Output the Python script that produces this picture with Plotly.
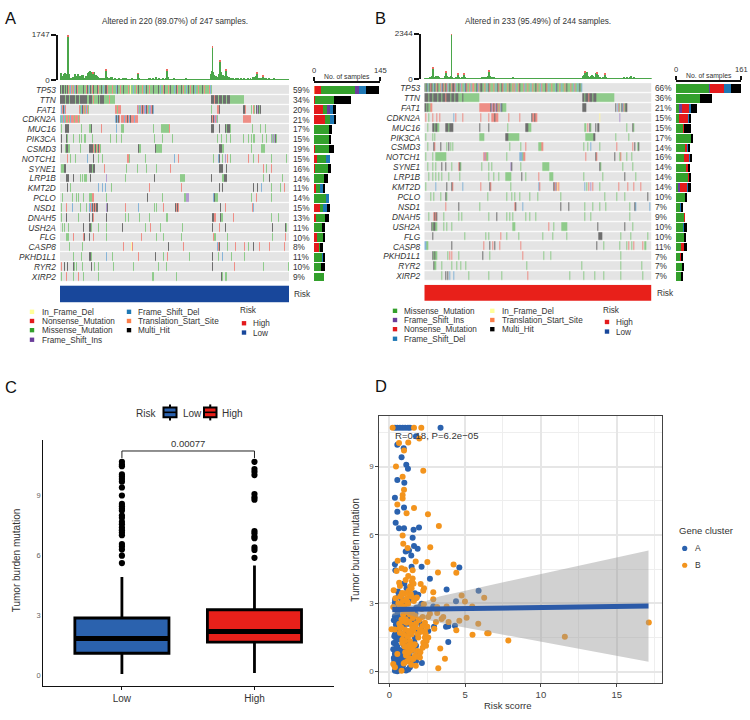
import plotly.graph_objects as go

W, H = 750, 720
FONT = "Liberation Sans"
GENES_A = ["TP53","TTN","FAT1","CDKN2A","MUC16","PIK3CA","CSMD3","NOTCH1","SYNE1","LRP1B","KMT2D","PCLO","NSD1","DNAH5","USH2A","FLG","CASP8","PKHD1L1","RYR2","XIRP2"]
PCT_A = [59,34,20,21,17,15,19,15,16,14,11,14,15,13,11,10,8,11,10,9]
PCT_B = [66,36,21,15,15,17,14,16,14,14,14,10,7,9,10,10,11,7,7,7]
N_A, N_B = 247, 244
MAX_A, MAX_B = 145, 161

# side bar counts per gene
A_t = [2,0,0,0,0,0,0,0,0,0,0,0,0,0,0,0,0,0,0,0]
A_n = [13,3,20,24,1,0,2,7,2,0,4,0,12,4,0,7,11,0,1,1]
A_m = [75,41,8,11,32,33,30,20,29,22,9,26,8,20,18,14,4,19,15,20]
A_i = [9,0,7,0,0,0,0,0,0,0,0,0,0,0,0,0,0,0,0,0]
A_f = [15,0,6,9,0,0,0,7,0,0,7,6,8,0,0,0,0,2,0,0]
A_x = [27,36,7,4,7,3,12,0,7,9,4,0,7,8,7,1,4,3,7,0]
B_m = [82,59,7,7,18,39,22,21,27,30,7,23,10,20,19,19,12,11,17,14]
B_i = [3,0,7,0,0,0,0,0,0,0,3,0,0,0,0,0,0,0,0,0]
B_n = [34,0,17,24,3,0,6,12,2,1,16,0,1,2,0,0,9,2,0,0]
B_f = [18,0,6,2,0,0,1,2,0,0,6,0,2,0,1,0,0,0,0,0]
B_x = [24,31,16,3,16,2,6,5,5,5,4,2,4,0,6,5,5,4,2,3]

# TMB per sample
TMB_A = [60,300,120,180,250,270,240,260,1747,240,
60,80,40,70,120,50,240,100,160,240,
130,170,100,220,200,60,90,120,160,150,
300,340,350,330,320,300,340,220,200,170,
120,90,110,60,100,60,80,50,90,430,
130,60,110,70,140,50,120,60,40,90,
70,40,60,90,50,40,70,110,40,60,
90,110,50,30,60,40,50,80,60,40,
60,50,60,70,280,110,50,70,40,60,
60,50,70,60,40,110,60,90,70,50,
80,60,50,150,60,70,90,60,50,70,
60,110,70,50,90,430,120,60,50,60,
50,60,90,40,70,50,60,40,30,50,
70,40,60,30,50,80,40,30,50,60,
30,40,60,30,20,50,30,40,70,30,
40,30,60,20,40,30,50,20,40,60,
30,50,250,380,1330,320,200,130,180,140,
90,260,790,310,150,220,170,110,380,410,
170,100,130,60,90,60,110,50,70,90,
60,90,50,70,60,80,50,60,90,50,
40,70,110,60,50,90,70,60,130,90,
120,170,300,110,90,60,110,90,190,120,
80,60,90,70,50,90,60,40,70,50,
80,50,60,40,70,50,30,60,40,70,
30,50,60,40,30,50,40]
TMB_B = [40,60,70,50,90,80,100,120,180,610,
150,110,200,130,90,170,110,60,50,70,
90,70,180,390,160,120,130,110,170,2344,
120,90,70,60,110,90,300,100,70,60,
110,130,300,120,90,60,50,70,60,80,
60,50,70,40,60,50,80,40,60,70,
80,60,100,70,120,90,100,130,180,440,
200,110,90,70,100,120,80,60,90,70,
60,70,50,90,60,40,70,50,60,80,
60,90,70,50,60,100,70,50,70,60,
90,60,50,70,40,60,80,50,20,30,
40,20,30,50,40,30,60,30,40,50,
30,40,60,30,50,40,30,60,40,30,
50,30,40,60,30,50,30,40,30,50,
40,30,50,30,40,60,30,40,50,30,
40,30,60,40,30,50,30,40,30,50,
40,50,30,60,40,30,50,80,60,40,
200,210,390,200,380,160,130,120,100,180,
220,170,150,130,340,350,210,150,100,80,
70,100,120,60,300,110,70,50,60,40,
60,40,50,70,60,40,30,60,40,70,
50,40,90,60,110,80,50,100,60,40,
120,80,170,70,50,130,90,60,40,70,
50,80,60,40,90,50,60,30,70,40,
50,30,60,40]
TIP_A_IDX = [8,49,84,115,164,172,179,212,218,35]
TIP_A_VAL = [60,30,20,30,60,50,30,30,30,30]
TIP_B_IDX = [9,23,29,36,42,69,172,185,194]
TIP_B_VAL = [50,30,50,30,30,40,30,30,30]

# per-sample mutations in the oncoplots: "3m" = sample 3, "4-9x" = samples 4..9
a_TP53 = "xmxxmxmmxnmfnmnfmxnm" "mmmmmxmmnxmfxmmnxmmm" "xnmmxmfmmxxnmmmmnmmm" "fmxmmnmmxmmmmnmxdmmf" "mmnmxmmmnmmfmxmmnmmm" "xmnmmmxmfmmnxmmmmnmx" "mmmfmxnmmmmxmnmmfmxm" "nmmxmmfmmnmmmxmnmfmm" "mnfm"
a_TTN = "0-4x 5m 6-9x 10m 11-15x 16m 17-20x 21m 22-28x 29m 30m 31-34x 35m 36n 37-40m 41x 42m 43-46x 47m 48-52m 53n 54-58m 163-165x 166n 167-169x 170m 171-174x 175m 176-178x 179m 180-182x 183-197m"
a_FAT1 = "1f 2n 3x 4f 5n 21n 22m 23f 24x 25n 26m 27n 28f 29n 30m 59-61n 62m 63-65n 83n 84i 85m 86f 87n 88x 89m 90n 91i 92f 93x 94n 95m 96f 97i 98n 99x 100f 163m 169-171n 172x 197-199x 200n 206m 208n 209m 211x 212n 213i 214x 215m 216x"
a_CDKN2A = "0f 1m 2f 3n 4f 5m 6f 7-8n 9m 10n 11f 12-14n 15m 16-18n 19m 20-21n 59f 60x 61n 62f 63x 64n 66-68n 69f 70-71n 72x 73n 74f 75n 76x 77-79n 80f 81-83n 163x 164n 165x 166i 167n 168i 169m 197-205n"
a_MUC16 = "1m 5x 6m 7-9x 23m 31m 32m 33-34x 44n 60f 66-68m 89m 100m 109-117m 118n 163-165x 172x 178x 179m 180-182x 183m 207m 216m 221m"
a_PIK3CA = "1x 7x 8m 14m 21m 23m 26m 27m 35m 54m 60m 66m 101m 110m 121m 169m 174m 179m 183m 197m 203m 206m 208m 209m 218m 222m 228m 229i 230m 231i 232x 233m"
a_CSMD3 = "1x 5m 6-8x 9-10m 22m 31-33x 34n 35x 36n 37m 38x 39n 40m 41x 42n 43m 84x 85-86m 102x 103x 104-109m 172-174x 175-176m 206m 217-220m"
a_NOTCH1 = "8n 11m 16m 29f 34d 36x 41m 45m 72-73n 74-75m 92m 123f 127n 165m 170f 172x 175m 178i 180n 183m 203n 208m 212x 214n 228m 244m"
a_SYNE1 = "1-3m 4-6x 31-33x 34-35m 36-37x 47n 48m 71m 83m 93m 104m 119n 172-175x 179x 219n 222m 228n"
a_LRP1B = "6-9x 14x 22m 24m 26-28m 32x 50i 70m 101x 129-134m 163x 175-176m 177-179x 212m 219m 225x 239m"
a_KMT2D = "8x 11m 20i 41f 45f 49f 55m 96n 131n 172x 175x 208x 212f 213x 217f 228m 237m 242n"
a_PCLO = "2m 6m 13m 17m 19m 25m 31-33m 34-36n 50m 94x 110m 130f 134-135m 136-138i 165f 166x 167-169m 171m 206m 211n 228m"
a_NSD1 = "1m 6-7n 13f 22m 28m 31f 32n 33f 35x 36n 37x 38n 39-40x 50i 51x 70n 84f 101m 104m 111n 124x 125n 126x 127n 173x 178n 207n 208f"
a_DNAH5 = "1m 6-7x 19m 31x 35x 36n 50x 70m 73m 85m 96m 114-115m 164-165x 166-167n 173x 174-175m 187n 228m 235m 240m"
a_USH2A = "2m 4m 6m 9m 25x 31-32x 33m 41m 50m 67x 92m 97n 108m 132m 164x 172n 178x 199m 229x 243x 244m"
a_FLG = "6-9m 14n 25n 26x 31x 36n 50m 87n 102m 104m 111m 131m 165n 166-167m 180m 199m 212m 229m 243n"
a_CASP8 = "10m 24m 68n 77d 78n 117x 133n 169f 170n 171n 172x 180m 189n 198n 203m 208x 215n 225n 242n"
a_PKHD1L1 = "14m 23m 31-32x 33-34m 50f 56m 84n 103x 111m 115n 139m 164x 170m 175f 184m 198m 226m"
a_RYR2 = "1n 4x 8x 14x 15m 17m 24m 33x 37m 41m 57m 79m 106m 114m 164x 188n 219m 246m"
a_XIRP2 = "1m 7n 14m 19n 25m 34m 41m 99-100m 125m 130m 174x 175m 178-179m"

b_TP53 = "xmxfmxnmxmfxmnxmmnfx" "nmxxnfmxmnxxnfmmnxmf" "nmmfxnmmnfmxnnmmxfnm" "xxmmnmmfmxnmmmnmfmxn" "mmmxnmfmmnmxmmnmmnfm" "mnxmmmnfmmxnmmfmnmmx" "mnmmfmnmmmxnmfmmnmmn" "mfxmmnmfmmnmxmfmmnmm" "fnmmfmxmfn"
b_TTN = "0-3x 4m 5-8x 9m 10-13x 14m 15-17x 18m 19-22x 23n 24-27x 28m 29-31x 32m 33-36x 37-40m 41x 42-58m 169-171x 172m 173-175x 176n 177-179x 180m 181-184x 185m 186-203m"
b_FAT1 = "0-1x 2m 3x 4-5m 6-8n 59-70n 71x 72i 73n 74x 75n 76i 77x 78n 79m 80x 81n 82f 83x 84-87m 169-173x 205x 207f 208n 209m 211x 212f 213x 214n 215m 216-217x"
b_CDKN2A = "1n 4m 9n 13n 16n 31f 33n 41n 60n 69n 72-74n 75x 76-78n 90n 102n 115x 116-117n 118x 119-120n 169x 188d 209i"
b_MUC16 = "3m 9-10x 11m 12-13x 14-15m 23-25x 26m 27-30x 59x 69x 89m 108-111x 112-114m 172-173m 175n 177x 178m 183-184x 186-187x 213n 217m 223x 224m"
b_PIK3CA = "1m 9m 11m 59-63m 87-89x 90-101m 173-180m 181-183x 205m 219m"
b_CSMD3 = "3m 10x 11n 17x 24m 26x 28m 30m 36m 91m 103m 108n 122-125m 126-127n 171m 175m 178f 188m 206n 223n 225x 227f 229m 230x"
b_NOTCH1 = "1m 9m 12-23m 63n 64i 65n 66-68m 88m 102-104f 105m 106-107n 169f 173n 184x 185n 204x 209m 210n 217m 222m"
b_SYNE1 = "3m 9m 12m 18x 23x 29m 37n 38x 39m 61m 69m 72m 92i 93x 103m 110m 127-133m 188x 189m 212m 223m"
b_LRP1B = "4m 9m 12m 15m 18m 22m 26m 38m 69m 74m 79m 87-92m 104x 108m 122n 134-137m 171m 191m 215x 226m"
b_KMT2D = "1m 12f 24x 29x 30n 41f 60n 70x 71n 80i 92m 122f 123n 138x 139f 140n 141f 142n 143d 144n 172f 174m 176n 178i 180n 188m 208n 218n 224n 232n"
b_PCLO = "6m 10m 17m 23x 24m 68m 88m 93m 97m 102m 113m 121m 146m 193m 206m 215m 239x"
b_NSD1 = "23n 37x 59m 97n 98x 105f 146x 155x 172m 180m 188m 194m 220m 225x 226f 241f"
b_DNAH5 = "4m 10n 11x 12n 13x 20m 37m 40m 69m 77x 88m 91m 94m 108m 113m 119m 172m 178m 183m 220m"
b_USH2A = "7-8x 9m 10-11x 12-13m 20m 24m 29m 80m 94-97m 133n 138m 147-152m 186x 215x 223m"
b_FLG = "9x 43m 65m 69m 82n 88m 95m 101m 127m 137m 152m 187-190x 210m 213m 221m 239m"
b_CASP8 = "0-1f 2-3m 29x 63n 70x 73n 75x 81n 103n 185x 192m 209m 217m 219n 222m 224n 234n 236-237m"
b_PKHD1L1 = "9x 10m 11x 12-13m 25m 27n 29n 37m 62x 70m 105n 128m 135m 210m 242m"
b_RYR2 = "10x 11-12m 18m 29m 34m 39m 44m 66m 109m 168m 210m 233m 242m"
b_XIRP2 = "18m 23x 25x 27f 31f 47m 69m 83m 111n 156m 171m 182m 192m 210m 234m"

# panel C
BOX_LABELS = ["Low", "High"]
BOX_Q1 = [1.11, 1.67]
BOX_MED = [1.84, 2.20]
BOX_Q3 = [2.87, 3.28]
BOX_LO = [0.08, 0.13]
BOX_HI = [4.92, 5.49]
OUT_LOW = [10.66,10.52,10.44,10.03,9.92,9.8,9.67,9.38,8.98,8.56,8.44,8.33,8.23,7.98,7.87,7.67,7.54,7.38,7.25,7.13,7.0,6.56,6.44,6.28,5.98,5.61]
OUT_HIGH = [10.66,10.3,10.16,10.0,9.05,8.89,8.77,7.21,7.1,6.93,6.85,6.39,6.26,5.87]

# panel D
D_A_x = [.37,.53,.7,.88,1.05,1.23,1.36,3.38,1.76,.53,.95,.81,1.12,1.23,.53,.99,.37,.97,.53,.42,.64,.97,1.6,1.96,1.54,1.63,1.87,1.08,1.3,1.45,.92,.37,.4,1.47,2.13,4.62,2.68,3.78,5.89,.99,4.4,.57,1.14,1.69,1.91,.37,2.13,2.9,.81,1.41,2.02,.37,1.25,1.58,.59,.44,1.23,2.02,2.13,1.76,2.57,2.95,3.74,3.89,4.33,3.89,.37,.7,1.69,.26,.48,.92,1.14,1.47,1.76,1.98,1.03,1.76,2.15,.37,.59,.33,.77,.37,.53,.7,1.25,1.36,.88,1.14,.44,.5,.6,.9,1.1,.75,.9,1.0,1.3,.42,.55,.65,.8,1.05,.45,.7,.95,1.15,.55,.8,1.1,.4,1.6,1.85,
.3,.35,.45,.5,.62,.72,.85,.95,1.2,1.35,1.5,.3,.4,.52,.68,.78,.98,1.12,1.28,1.55,.33,.46,.58,.82,1.02,1.18,1.42,1.65,.3,.48,.66,.86,1.06,1.22,1.62,1.9,.36,.56,.76,.96,1.16,1.38,1.72,.38,.6,.8,1.0,1.3,1.52,1.78]
D_A_y = [10.71,10.71,10.71,10.71,10.71,10.71,10.71,10.71,10.33,9.96,9.8,9.41,9.08,8.9,8.41,8.29,7.63,7.2,7.02,6.53,6.29,6.29,6.23,6.33,5.87,5.51,5.39,5.27,5.32,5.1,4.91,4.71,4.45,4.6,4.6,4.57,4.08,3.6,3.55,3.87,3.09,3.51,3.66,3.44,3.37,3.03,2.98,2.86,3.15,3.15,2.86,2.43,2.36,2.28,2.21,2.07,2.1,2.14,1.97,1.85,1.78,1.97,1.97,1.99,2.01,1.3,1.63,1.42,1.49,.98,1.05,1.2,.91,.91,1.13,.87,.69,.45,.38,.77,.55,.48,.33,.04,.01,.12,.09,.19,.84,.55,1.2,.3,.15,.25,.05,.62,.75,1.0,.7,.95,1.45,1.75,1.6,1.45,1.9,2.3,2.0,1.75,2.6,2.75,2.7,2.75,2.05,2.2,
.6,.25,.45,.7,.08,.4,.55,.35,.85,.45,1.15,1.25,.85,1.1,.95,.6,1.35,.8,1.25,.95,1.55,1.4,1.7,1.95,1.25,1.1,.45,1.3,2.25,2.05,1.9,1.55,1.35,1.6,2.5,1.7,2.9,2.45,2.2,1.65,2.4,2.6,2.55,3.15,3.3,3.4,3.05,3.25,2.5,2.8]
D_B_x = [.22,1.63,2.11,.64,1.25,1.98,.97,.44,2.24,.88,.97,.88,.88,.53,1.63,1.14,2.55,3.27,.88,.92,1.21,2.7,.55,1.74,2.51,4.24,4.42,3.21,.81,1.03,.48,1.54,1.25,1.54,1.49,1.08,.29,.7,2.07,2.29,2.24,1.47,2.9,.4,.81,1.03,1.47,1.76,2.9,4.77,4.99,6.26,.26,.66,1.25,3.16,3.78,5.47,2.68,3.16,2.2,2.57,3.56,3.45,5.1,4.62,3.91,3.08,5.87,17.12,2.97,.15,.37,4.42,5.49,6.46,6.55,11.58,7.85,3.36,3.67,3.23,.92,1.36,.81,1.14,1.47,1.76,2.35,2.51,.7,1.03,1.25,1.58,2.02,2.35,.92,1.25,1.47,1.91,2.35,2.57,1.03,1.36,2.24,2.46,2.2,2.42,1.25,1.47,.53,1.47,1.03,.26,.37,.81,2.02,1.69,.75,.9,1.0,1.25,1.5,1.7,2.0,.6,1.2,1.35,
.72,.84,1.12,1.28,1.42,1.62,1.82,2.14,2.28,.66,.78,1.08,1.3,1.56,1.72,1.95,2.18,2.4,.86,1.18,1.34,1.52,1.68,1.88,2.1,2.3,1.0,1.24,1.4,1.64,1.86,2.05,1.1,1.32,1.58,1.8,.95,1.2,1.45,1.75,.7,.85,1.05,1.3,1.55,1.15,1.38,1.6,.65,.98]
D_B_y = [10.71,10.71,10.71,10.03,10.06,10.23,9.71,9.0,8.82,8.55,7.98,7.75,7.6,7.34,7.18,6.95,6.91,6.39,5.97,5.61,5.43,5.46,4.86,4.83,4.81,4.7,4.34,4.35,4.54,4.48,4.42,4.45,4.19,4.09,3.95,4.02,3.57,3.76,3.84,3.66,3.55,3.66,3.48,3.22,3.37,3.44,3.29,3.22,3.18,3.34,3.08,3.24,2.83,2.93,2.98,2.83,2.86,2.86,2.54,2.57,2.4,2.4,2.4,2.31,2.36,2.23,2.18,2.18,2.1,2.15,1.88,1.86,1.85,1.81,1.62,1.68,1.68,1.53,1.36,1.01,.56,.14,2.5,2.5,2.28,2.14,2.07,2.11,2.14,1.97,1.92,1.85,1.78,1.78,1.85,1.78,1.63,1.56,1.63,1.49,1.49,1.49,1.34,1.34,1.27,1.34,1.05,1.13,1.13,1.2,.77,.55,.4,.33,.19,.04,.62,.69,2.9,3.1,2.85,2.7,2.6,2.45,2.3,3.0,3.05,3.35,
3.3,3.45,3.2,3.55,3.4,3.1,3.25,2.75,2.95,2.1,1.95,2.3,2.2,2.35,1.95,2.25,2.0,1.65,1.4,1.55,1.7,1.9,1.2,1.65,1.75,1.15,1.1,.95,1.05,1.15,.9,.85,.7,.6,.55,.65,.35,.45,.3,.25,1.7,1.25,.85,.85,.95,2.6,3.75,3.85,3.9,2.2]
FIT_X = [0.2,17.1]
FIT_Y = [2.72,2.88]
BAND_X = [0.2,1.0,2.0,3.3,5,7.5,10,12.5,15,17.1]
BAND_UP = [2.98,2.85,3.0,3.3,3.55,3.91,4.28,4.64,5.01,5.32]
BAND_LO = [2.45,2.55,2.35,2.14,1.93,1.62,1.31,1.0,.69,.43]

# styling
CODES = {"m":1,"n":2,"f":3,"i":4,"x":5,"t":6,"d":7}
CELL = ["#e4e4e4","#8fcb8b","#ee8e86","#86b4d8","#b39cd0","#6e6e6e","#f9b08c","#fdf5a8"]
SOLID = {"m":"#33a02c","n":"#e31a1c","f":"#1f78b4","i":"#6a3d9a","x":"#000000","t":"#fb7e4a","d":"#ffff99"}
LOWC, HIGHC = "#18479b", "#e8201a"
BOXLOW, BOXHIGH = "#2b62ae", "#e8201a"
CLA, CLB = "#2b62ae", "#f3941d"
TXT = "#333333"

def dx(a, b): return [a / W, b / W]
def dy(t, b): return [1 - b / H, 1 - t / H]

def parse(spec, n):
    row = [0] * n
    if " " in spec or any(c.isdigit() for c in spec):
        for tok in spec.split():
            code, rng = CODES[tok[-1]], tok[:-1]
            a, b = rng.split("-") if "-" in rng else (rng, rng)
            for i in range(int(a), int(b) + 1):
                row[i] = code
    else:
        for i, c in enumerate(spec):
            row[i] = CODES[c]
    return row

fig = go.Figure()
ann, shp = [], []

def note(x, y, text, size=8, color=TXT, anchor="left", angle=0):
    ann.append(dict(x=x / W, y=1 - y / H, xref="paper", yref="paper", text=text, showarrow=False,
                    xanchor=anchor, yanchor="middle", textangle=angle,
                    font=dict(size=size, color=color, family=FONT)))

def square(x, y, color, s=2.2):
    shp.append(dict(type="rect", xref="paper", yref="paper", x0=(x - s) / W, x1=(x + s) / W,
                    y0=1 - (y + s) / H, y1=1 - (y - s) / H, fillcolor=color, line=dict(width=0)))

layout = {}

def onco_panel(k, genes, pct, rows, n, tmb, tip_idx, tip_val, top, side_counts, side_max,
               left, right, rowtop, rowbot, row0, step, tmbtop, tmbbot, axx,
               sleft, sright, risk, risktop, riskbot, riskcolor, tmbmax, pctx, bracket):
    k1, k2, k3, k4 = k, k + 1, k + 2, k + 3
    body = list(tmb)
    tips = [0] * n
    for i, v in zip(tip_idx, tip_val):
        tips[i] = v
        body[i] = tmb[i] - v
    samples = list(range(n))
    fig.add_trace(go.Bar(x=samples, y=body, marker=dict(color="#4aa64a", line=dict(width=0)), xaxis=f"x{k1}", yaxis=f"y{k1}", showlegend=False, hoverinfo="skip"))
    fig.add_trace(go.Bar(x=samples, y=tips, marker=dict(color="#ee6a60", line=dict(width=0)), xaxis=f"x{k1}", yaxis=f"y{k1}", showlegend=False, hoverinfo="skip"))
    layout[f"xaxis{k1}"] = dict(domain=dx(left, right), range=[-0.5, n - 0.5], visible=False, anchor=f"y{k1}")
    layout[f"yaxis{k1}"] = dict(domain=dy(tmbtop, tmbbot), range=[0, tmbmax], anchor="free", position=axx / W, showline=True, linecolor="#111", linewidth=1.6,
                                ticks="outside", ticklen=5, tickwidth=1.6, tickcolor="#111", tickvals=[0, tmbmax], ticktext=["0", str(tmbmax)],
                                showgrid=False, zeroline=False, tickfont=dict(size=8, color=TXT, family=FONT))
    z = [parse(r, n) for r in rows]
    scale = []
    for i, c in enumerate(CELL):
        scale += [[i / 8, c], [(i + 1) / 8, c]]
    ymin, ymax = (rowtop - row0) / step, (rowbot - row0) / step
    fig.add_trace(go.Heatmap(z=z, x=samples, y=list(range(len(genes))), zmin=0, zmax=8, colorscale=scale, showscale=False, ygap=1.2,
                             xaxis=f"x{k2}", yaxis=f"y{k2}", hoverinfo="skip"))
    layout[f"xaxis{k2}"] = dict(domain=dx(left, right), range=[-0.5, n - 0.5], visible=False, anchor=f"y{k2}")
    layout[f"yaxis{k2}"] = dict(domain=dy(rowtop, rowbot), range=[ymax, ymin], anchor=f"x{k2}", tickvals=list(range(len(genes))),
                                ticktext=[f"<i>{g}</i>" for g in genes], ticks="outside", ticklen=1.5, tickcolor="rgba(0,0,0,0)", showgrid=False, zeroline=False, showline=False,
                                tickfont=dict(size=8.3, color=TXT, family=FONT))
    for i, p in enumerate(pct):
        ann.append(dict(x=pctx / W, xref="paper", y=i, yref=f"y{k2}", text=f"{p}%", showarrow=False, xanchor="left", yanchor="middle",
                        font=dict(size=8.3, color=TXT, family=FONT)))
    for key, vals in side_counts:
        fig.add_trace(go.Bar(y=list(range(len(genes))), x=vals, orientation="h", width=0.88, marker=dict(color=SOLID[key], line=dict(width=0)),
                             xaxis=f"x{k3}", yaxis=f"y{k3}", showlegend=False, hoverinfo="skip"))
    layout[f"xaxis{k3}"] = dict(domain=dx(sleft, sright), range=[0, side_max], side="top", anchor=f"y{k3}", showline=True, linecolor="#111", linewidth=1.5,
                                ticks="outside", ticklen=4, tickwidth=1.5, tickcolor="#111", tickvals=[0, side_max], showticklabels=False, showgrid=False, zeroline=False)
    layout[f"yaxis{k3}"] = dict(domain=dy(rowtop, rowbot), range=[ymax, ymin], visible=False, anchor=f"x{k3}")
    for v in (0, side_max):
        ann.append(dict(x=v, xref=f"x{k3}", y=1 - (bracket - 12.5) / H, yref="paper", text=str(v), showarrow=False, xanchor="center", yanchor="middle",
                        font=dict(size=7.6, color=TXT, family=FONT)))
    note((sleft + sright) / 2, bracket - 6, "No. of samples", 6.8, anchor="center")
    fig.add_trace(go.Heatmap(z=[[1 if risk == "Low" else 2] * n], x=samples, y=[risk], zmin=1, zmax=2, showscale=False,
                             colorscale=[[0, riskcolor], [1, riskcolor]], xaxis=f"x{k4}", yaxis=f"y{k4}", hoverinfo="skip"))
    layout[f"xaxis{k4}"] = dict(domain=dx(left, right), range=[-0.5, n - 0.5], visible=False, anchor=f"y{k4}")
    layout[f"yaxis{k4}"] = dict(domain=dy(risktop, riskbot), visible=False, anchor=f"x{k4}")
    note(right + 3, (risktop + riskbot) / 2, "Risk", 8.3)
    note((left + right) / 2, 18, top, 8.2, anchor="center")

rows_A = [a_TP53,a_TTN,a_FAT1,a_CDKN2A,a_MUC16,a_PIK3CA,a_CSMD3,a_NOTCH1,a_SYNE1,a_LRP1B,a_KMT2D,a_PCLO,a_NSD1,a_DNAH5,a_USH2A,a_FLG,a_CASP8,a_PKHD1L1,a_RYR2,a_XIRP2]
rows_B = [b_TP53,b_TTN,b_FAT1,b_CDKN2A,b_MUC16,b_PIK3CA,b_CSMD3,b_NOTCH1,b_SYNE1,b_LRP1B,b_KMT2D,b_PCLO,b_NSD1,b_DNAH5,b_USH2A,b_FLG,b_CASP8,b_PKHD1L1,b_RYR2,b_XIRP2]

onco_panel(1, GENES_A, PCT_A, rows_A, N_A, TMB_A, TIP_A_IDX, TIP_A_VAL, "Altered in 220 (89.07%) of 247 samples.",
           [("t",A_t),("n",A_n),("m",A_m),("i",A_i),("f",A_f),("x",A_x)], MAX_A,
           60, 289, 80, 282, 87.1, 9.96, 31, 77, 57, 313.5, 380, "Low", 285, 302.3, LOWC, 1747, 291, 79.5)
onco_panel(5, GENES_A, PCT_B, rows_B, N_B, TMB_B, TIP_B_IDX, TIP_B_VAL, "Altered in 233 (95.49%) of 244 samples.",
           [("m",B_m),("i",B_i),("n",B_n),("f",B_f),("x",B_x)], MAX_B,
           424.3, 651.7, 78.5, 281, 85.2, 10.03, 30, 76, 420, 676, 741, "High", 284.3, 300.7, HIGHC, 2344, 653.3, 78.5)

LEG_A1 = [("In_Frame_Del","d"),("Nonsense_Mutation","n"),("Missense_Mutation","m"),("Frame_Shift_Ins","i")]
LEG_A2 = [("Frame_Shift_Del","f"),("Translation_Start_Site","t"),("Multi_Hit","x")]
LEG_B1 = [("Missense_Mutation","m"),("Frame_Shift_Ins","i"),("Nonsense_Mutation","n"),("Frame_Shift_Del","f")]
LEG_B2 = [("In_Frame_Del","d"),("Translation_Start_Site","t"),("Multi_Hit","x")]
for (name, c), y in zip(LEG_A1, [311.7,321,330.3,340]):
    square(32, y, SOLID[c]); note(39.5, y + 0.5, name, 8.2)
for (name, c), y in zip(LEG_A2, [311.7,321,330.3]):
    square(129, y, SOLID[c]); note(135.7, y + 0.5, name, 8.2)
for (name, c), y in zip(LEG_B1, [310.7,320,329.3,339]):
    square(395, y, SOLID[c]); note(401.7, y + 0.5, name, 8.2)
for (name, c), y in zip(LEG_B2, [310.7,320,329.3]):
    square(492.3, y, SOLID[c]); note(500, y + 0.5, name, 8.2)
note(237.7, 310.3, "Risk", 8.2); note(600.7, 310.3, "Risk", 8.2)
square(244, 323.3, "#e31a1c"); note(250.7, 323.8, "High", 8.2)
square(244, 332.7, LOWC); note(250.7, 333.2, "Low", 8.2)
square(607, 322, "#e31a1c"); note(614, 322.5, "High", 8.2)
square(607, 331.7, LOWC); note(614, 332.2, "Low", 8.2)

for t, x, y in [("A",3,14),("B",373,14),("C",3,388),("D",373,387)]:
    note(x, y, t, 16.5, "#111")

BW = 0.71
for pos, (c, q1, m, q3, lo, hi) in enumerate(zip([BOXLOW, BOXHIGH], BOX_Q1, BOX_MED, BOX_Q3, BOX_LO, BOX_HI)):
    fig.add_trace(go.Box(x=[pos], q1=[q1], median=[m], q3=[q3], lowerfence=[lo], upperfence=[hi], width=BW, whiskerwidth=0,
                         fillcolor=c, line=dict(color="#000", width=2.8), boxpoints=False, showlegend=False, hoverinfo="skip", xaxis="x9", yaxis="y9"))
    fig.add_trace(go.Scatter(x=[pos - BW / 2, pos + BW / 2], y=[m, m], mode="lines", line=dict(color="#000", width=5), showlegend=False, hoverinfo="skip", xaxis="x9", yaxis="y9"))
for pos, vals in enumerate([OUT_LOW, OUT_HIGH]):
    fig.add_trace(go.Scatter(x=[pos] * len(vals), y=vals, mode="markers", marker=dict(color="#000", size=6.2), showlegend=False, hoverinfo="skip", xaxis="x9", yaxis="y9"))
fig.add_trace(go.Scatter(x=[0, 0, 1, 1], y=[10.85, 11.2, 11.2, 10.85], mode="lines", line=dict(color="#222", width=1), showlegend=False, hoverinfo="skip", xaxis="x9", yaxis="y9"))
layout["xaxis9"] = dict(domain=dx(43.3, 334), range=[-0.593, 1.6], anchor="y9", tickvals=[0, 1], ticktext=BOX_LABELS, showline=True, linecolor="#111", linewidth=1.2,
                        ticks="outside", ticklen=3, tickcolor="#111", showgrid=False, zeroline=False, tickfont=dict(size=10, color=TXT, family=FONT))
layout["yaxis9"] = dict(domain=dy(441.7, 690.7), range=[-0.527, 11.74], anchor="x9", tickvals=[0, 3, 6, 9], showline=True, linecolor="#111", linewidth=1.2,
                        ticks="", showgrid=False, zeroline=False, tickfont=dict(size=7.5, color="#666", family=FONT))
note(188, 444.7, "0.00077", 9.5, anchor="center")
note(17.3, 563, "Tumor burden mutation", 10, angle=-90, anchor="center")
note(134, 415, "Risk", 10)
for (x0, x1, c, name, tx) in [(163.5, 176.5, BOXLOW, "Low", 181), (204, 216.5, BOXHIGH, "High", 219.5)]:
    xm = (x0 + x1) / 2
    shp.append(dict(type="line", xref="paper", yref="paper", x0=xm / W, x1=xm / W, y0=1 - 421.7 / H, y1=1 - 405.5 / H, line=dict(color="#000", width=2)))
    shp.append(dict(type="rect", xref="paper", yref="paper", x0=x0 / W, x1=x1 / W, y0=1 - 418.5 / H, y1=1 - 408.5 / H, fillcolor=c, line=dict(color="#000", width=2)))
    shp.append(dict(type="line", xref="paper", yref="paper", x0=x0 / W, x1=x1 / W, y0=1 - 413.5 / H, y1=1 - 413.5 / H, line=dict(color="#000", width=1.6)))
    note(tx, 415, name, 10)

fig.add_trace(go.Scatter(x=D_A_x, y=D_A_y, mode="markers", marker=dict(color=CLA, size=6), showlegend=False, hoverinfo="skip", xaxis="x10", yaxis="y10"))
fig.add_trace(go.Scatter(x=D_B_x, y=D_B_y, mode="markers", marker=dict(color=CLB, size=6), showlegend=False, hoverinfo="skip", xaxis="x10", yaxis="y10"))
fig.add_trace(go.Scatter(x=BAND_X + BAND_X[::-1], y=BAND_UP + BAND_LO[::-1], mode="lines", fill="toself", fillcolor="rgba(153,153,153,0.45)", line=dict(width=0), showlegend=False, hoverinfo="skip", xaxis="x10", yaxis="y10"))
fig.add_trace(go.Scatter(x=FIT_X, y=FIT_Y, mode="lines", line=dict(color="#2b5aa8", width=5), showlegend=False, hoverinfo="skip", xaxis="x10", yaxis="y10"))
GRID = dict(showgrid=True, gridcolor="#e6e6e6", gridwidth=2, zeroline=False, showline=True, mirror=True, linecolor="#444", linewidth=1.2, ticks="outside", ticklen=3, tickcolor="#444")
layout["xaxis10"] = dict(domain=dx(379.3, 661.7), range=[-0.66, 17.97], anchor="y10", tickvals=[0, 5, 10, 15], minor=dict(tickvals=[2.5, 7.5, 12.5, 17.5], showgrid=True, gridcolor="#eeeeee", gridwidth=1.2, ticks=""),
                         tickfont=dict(size=9.5, color="#444", family=FONT), **GRID)
layout["yaxis10"] = dict(domain=dy(417, 687.3), range=[-0.49, 11.23], anchor="x10", tickvals=[0, 3, 6, 9], minor=dict(tickvals=[1.5, 4.5, 7.5, 10.5], showgrid=True, gridcolor="#eeeeee", gridwidth=1.2, ticks=""),
                         tickfont=dict(size=8, color="#555", family=FONT), **GRID)
note(392.7, 436.7, "R=0.18, P=6.2e\u221205", 9.6)
note(507.7, 710.7, "Risk scorre", 9.5, anchor="center")
note(356, 552.7, "Tumor burden mutation", 10, angle=-90, anchor="center")
note(676.7, 533.3, "Gene cluster", 9.5)
for name, c, y in [("A", CLA, 551.3), ("B", CLB, 568.3)]:
    shp.append(dict(type="circle", xref="paper", yref="paper", x0=(684.7 - 2.6) / W, x1=(684.7 + 2.6) / W, y0=1 - (y + 2.6) / H, y1=1 - (y - 2.6) / H, fillcolor=c, line=dict(width=0)))
    note(693.3, y - 0.5, name, 8.5)

fig.update_layout(width=W, height=H, margin=dict(l=0, r=0, t=0, b=0), paper_bgcolor="white", plot_bgcolor="white",
                  barmode="stack", bargap=0, boxmode="overlay", showlegend=False, annotations=ann, shapes=shp,
                  font=dict(family=FONT), **layout)
fig.write_html("out.html", config={"displayModeBar": False}, post_script="document.body.style.margin='0';document.body.style.overflow='hidden';")
